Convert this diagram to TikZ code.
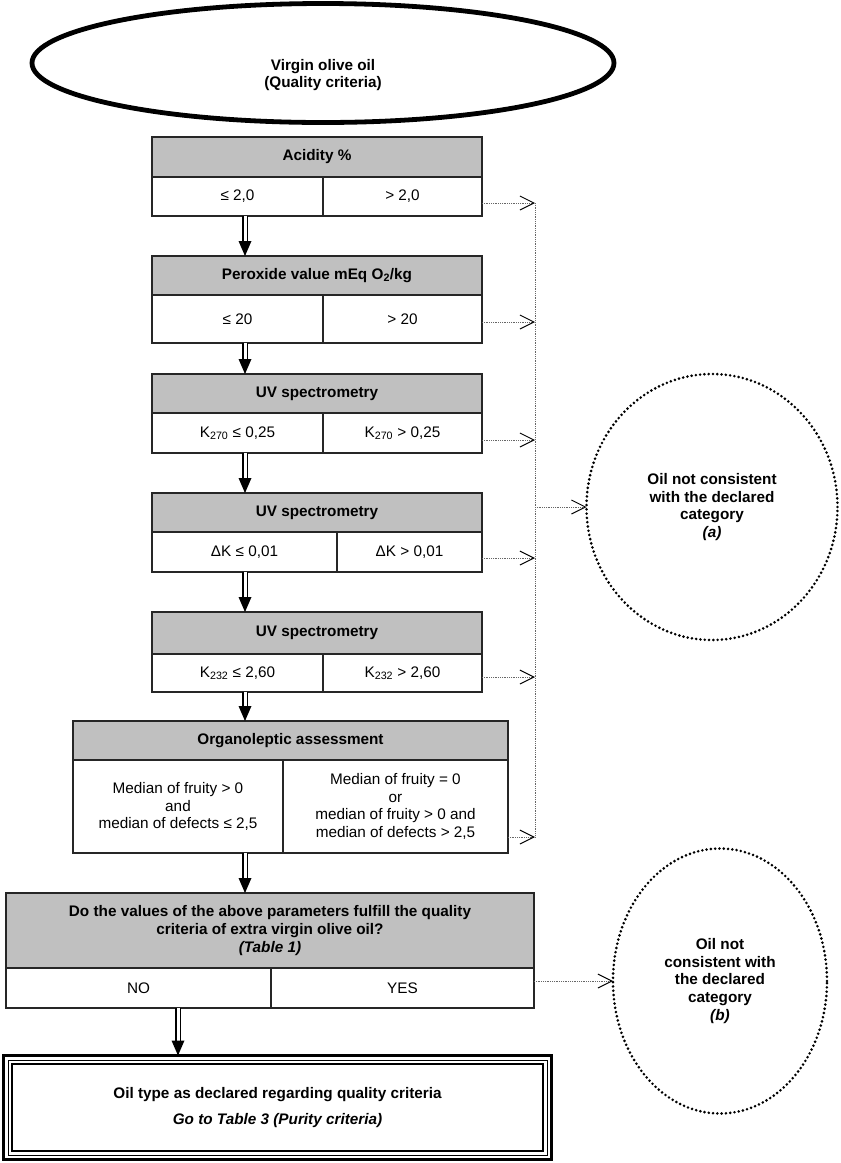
\documentclass[tikz,border=0pt]{standalone}
\usepackage{fontspec}
\setmainfont{Liberation Sans}
\usetikzlibrary{shapes.geometric,arrows.meta,calc}
\definecolor{hdrgray}{RGB}{192,192,192}
\newcommand\hdrbox[6]{\node[hdr, minimum width={(#3-#2)*1pt}, minimum height={(#5-#4)*1pt}] (#1-h) at ({(#2+#3)/2},{(#4+#5)/2}) {#6};}
\newcommand\cellpair[8]{%
 \node[cell, minimum width={(#3-#2)*1pt}, minimum height={(#6-#5)*1pt}] (#1-l) at ({(#2+#3)/2},{(#5+#6)/2}) {#7};
 \node[cell, minimum width={(#4-#3)*1pt}, minimum height={(#6-#5)*1pt}] (#1-r) at ({(#3+#4)/2},{(#5+#6)/2}) {#8};}
\newcommand\dblarrow[3]{%
 \draw[dblshaft] (#1 -| #3) -- (#2 -| #3);
 \fill[black] (#2 -| #3) -- ++(-6.5,-15) -- ++(13,0) -- cycle;}
\begin{document}
\begin{tikzpicture}[x=1pt,y=-1pt,
 every node/.style={inner sep=0pt,outer sep=0pt,align=center,font=\fontsize{15.3}{17.6}\selectfont},
 bfont/.style={font=\fontsize{15.3}{17.6}\selectfont\bfseries},
 hdr/.style={draw=black!85,line width=1.6pt,fill=hdrgray,bfont},
 cell/.style={draw=black!85,line width=1.6pt,fill=white},
 dblshaft/.style={draw=black,line width=1.6pt,double=white,double distance=3pt,shorten >=13pt},
 dotln/.style={draw=black!60,line width=0.9pt,dash pattern=on 0.9pt off 0.9pt},
 dotarr/.style={dotln,-{Straight Barb[length=14pt,width=14pt,line width=1pt,color=black]}},
 circ/.style={ellipse,draw=black,line width=2.9pt,dash pattern=on 0pt off 4.3pt,line cap=round,bfont}]
\useasboundingbox (0,0) rectangle (841,1163);
\fill[white] (0,0) rectangle (841,1163);

% start ellipse
\node[ellipse,draw=black,line width=4.8pt,minimum width=582pt,minimum height=119pt] (start) at (323,63) {};
\node[font=\fontsize{15.3}{16.5}\selectfont\bfseries] (starttext) at (323,75) {Virgin olive oil\\(Quality criteria)};

% boxes
\hdrbox{b1}{152}{482}{137}{177}{Acidity \%}
\cellpair{b1}{152}{323}{482}{177}{216}{≤ 2,0}{> 2,0}
\hdrbox{b2}{152}{482}{256}{295}{Peroxide value mEq O\textsubscript{2}/kg}
\cellpair{b2}{152}{323}{482}{295}{343}{≤ 20}{> 20}
\hdrbox{b3}{152}{482}{374}{413}{UV spectrometry}
\cellpair{b3}{152}{323}{482}{413}{453}{K\textsubscript{270} ≤ 0,25}{K\textsubscript{270} > 0,25}
\hdrbox{b4}{152}{482}{493}{532}{UV spectrometry}
\cellpair{b4}{152}{337}{482}{532}{572}{ΔK ≤ 0,01}{ΔK > 0,01}
\hdrbox{b5}{152}{482}{612}{654}{UV spectrometry}
\cellpair{b5}{152}{323}{482}{654}{692}{K\textsubscript{232} ≤ 2,60}{K\textsubscript{232} > 2,60}
\hdrbox{b6}{73}{508}{721}{760}{Organoleptic assessment}
\cellpair{b6}{73}{283}{508}{760}{853}{Median of fruity > 0\\and\\median of defects ≤ 2,5}{Median of fruity = 0\\or\\median of fruity > 0 and\\median of defects > 2,5}
\hdrbox{b7}{6}{534}{893}{968}{Do the values of the above parameters fulfill the quality\\criteria of extra virgin olive oil?\\\textit{(Table 1)}}
\cellpair{b7}{6}{271}{534}{968}{1008}{NO}{YES}

% final box
\node[draw=black,line width=3pt,minimum width=548pt,minimum height=104pt,bfont] (fin) at (277.5,1107.5) {Oil type as declared regarding quality criteria\\[9pt]\textit{Go to Table 3 (Purity criteria)}};
\draw[line width=1pt] ($(fin.north west)+(4.5,4.5)$) rectangle ($(fin.south east)+(-4.5,-4.5)$);
\draw[line width=1.2pt] ($(fin.north west)+(8.5,8.5)$) rectangle ($(fin.south east)+(-8.5,-8.5)$);

% circles
\node[circ,minimum width=251pt,minimum height=266pt] (ca) at (712,507) {Oil not consistent\\with the declared\\category\\\textit{(a)}};
\node[circ,minimum width=214pt,minimum height=265pt] (cb) at (720,981) {Oil not\\consistent with\\the declared\\category\\\textit{(b)}};

% double arrows
\coordinate (ax) at (245,0);
\coordinate (bx) at (178,0);
\dblarrow{b1-l.south}{b2-h.north}{ax}
\dblarrow{b2-l.south}{b3-h.north}{ax}
\dblarrow{b3-l.south}{b4-h.north}{ax}
\dblarrow{b4-l.south}{b5-h.north}{ax}
\dblarrow{b5-l.south}{b6-h.north}{ax}
\dblarrow{b6-l.south}{b7-h.north}{ax}
\dblarrow{b7-l.south}{fin.north}{bx}

% dotted arrows
\coordinate (v1) at (535,203);
\coordinate (v2) at (535,322);
\coordinate (v3) at (535,440);
\coordinate (v4) at (535,558);
\coordinate (v5) at (535,677);
\coordinate (v6) at (535,837);
\coordinate (va) at (535,507);
\draw[dotln] (v1) -- (v6);
\draw[dotarr] (v1 -| b1-r.east) -- (v1);
\draw[dotarr] (v2 -| b2-r.east) -- (v2);
\draw[dotarr] (v3 -| b3-r.east) -- (v3);
\draw[dotarr] (v4 -| b4-r.east) -- (v4);
\draw[dotarr] (v5 -| b5-r.east) -- (v5);
\draw[dotarr] (v6 -| b6-r.east) -- (v6);
\draw[dotarr] (va) -- (va -| ca.west);
\draw[dotarr] (cb.west -| b7-r.east) -- (cb.west);
\end{tikzpicture}
\end{document}
